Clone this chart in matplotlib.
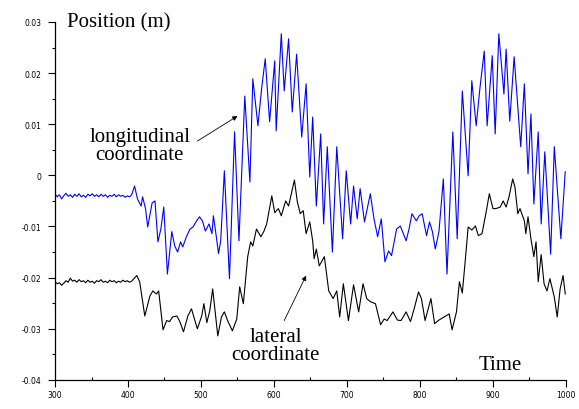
import matplotlib.pyplot as plt
from matplotlib.ticker import MultipleLocator


# Longitudinal coordinate (blue trace)
time_long = [
    300, 303, 306, 309, 312, 315, 318, 321, 324, 327, 330, 333, 336, 339,
    342, 345, 348, 351, 354, 357, 360, 363, 366, 369, 372, 375, 378, 381,
    384, 387, 390, 393, 396, 399, 402, 405,
    409, 413, 418, 420, 424, 427, 433, 437, 441, 445,
    449, 454, 460, 464, 468, 472, 475, 480, 485, 489, 494, 498, 502, 506,
    511, 515, 517, 521, 524, 527, 532, 539, 546, 552, 560, 567, 571, 578,
    583, 588, 594, 601, 603, 610, 614, 620, 625, 631, 638, 644, 649, 653,
    658, 664, 668, 673, 680, 686, 694, 699, 705, 709, 714, 718, 724, 732,
    737, 742, 747, 752, 757, 761, 768, 773, 781, 785, 789, 795, 799, 803,
    809, 813, 817, 821, 826, 832, 837, 845, 851, 858, 866, 871, 877, 882,
    888, 892, 899, 903, 908, 915, 918, 923, 929, 934, 938, 943, 948, 952,
    956, 962, 966, 971, 979, 984, 993, 999,
]
pos_long = [
    -0.0036, -0.0042, -0.0038, -0.0046, -0.0040, -0.0035, -0.0041, -0.0038,
    -0.0043, -0.0037, -0.0041, -0.0036, -0.0042, -0.0039, -0.0043, -0.0037,
    -0.0040, -0.0036, -0.0041, -0.0038, -0.0042, -0.0037, -0.0041, -0.0038,
    -0.0043, -0.0039, -0.0041, -0.0037, -0.0042, -0.0038, -0.0041, -0.0039,
    -0.0043, -0.0040, -0.0042, -0.0038,
    -0.0021, -0.0046, -0.0060, -0.0042, -0.0065, -0.0101,
    -0.0054, -0.0050, -0.0130, -0.0105, -0.0062, -0.0193, -0.0110, -0.0138,
    -0.0150, -0.0130, -0.0140, -0.0120, -0.0105, -0.0101, -0.0089, -0.0081,
    -0.0089, -0.0109, -0.0095, -0.0114, -0.0079, -0.0120, -0.0153, -0.0128,
    0.0009, -0.0202, 0.0085, -0.0128, 0.0155, -0.0013, 0.0189, 0.0097,
    0.0169, 0.0228, 0.0105, 0.0224, 0.0087, 0.0277, 0.0165, 0.0267,
    0.0124, 0.0237, 0.0075, 0.0179, -0.0003, 0.0114, -0.0060, 0.0081,
    -0.0095, 0.0056, -0.0150, 0.0056, -0.0124, 0.0009, -0.0095, -0.0021,
    -0.0085, -0.0026, -0.0091, -0.0036, -0.0085, -0.0120, -0.0085, -0.0169,
    -0.0148, -0.0157, -0.0105, -0.0099, -0.0128, -0.0105, -0.0075, -0.0089,
    -0.0079, -0.0075, -0.0118, -0.0091, -0.0110, -0.0144, -0.0110, -0.0007,
    -0.0193, 0.0085, -0.0124, 0.0165, -0.0001, 0.0185, 0.0097, 0.0169,
    0.0243, 0.0097, 0.0234, 0.0081, 0.0277, 0.0159, 0.0247, 0.0106,
    0.0232, 0.0134, 0.0056, 0.0179, 0.0003, 0.0120, -0.0056, 0.0085,
    -0.0095, 0.0046, -0.0154, 0.0056, -0.0124, 0.0007,
]

# Lateral coordinate (black trace)
time_lat = [
    300, 303, 306, 309, 312, 315, 318, 321, 324, 327, 330, 333, 336, 339,
    342, 345, 348, 351, 354, 357, 360, 363, 366, 369, 372, 375, 378, 381,
    384, 387, 390, 393, 396, 399, 402, 405,
    412, 416, 423, 430, 434, 439, 442, 448, 453, 457, 461, 467, 471,
    476, 482, 487, 491, 495, 501, 504, 508, 512, 516, 523, 528, 532, 537,
    543, 549, 553, 558, 564, 568, 571, 576, 582, 586, 590, 597, 601, 606,
    610, 616, 620, 628, 632, 636, 640, 644, 649, 653, 655, 658, 662, 669,
    675, 681, 686, 690, 695, 702, 709, 716, 722, 727, 732, 739, 746, 751,
    755, 763, 769, 774, 781, 787, 792, 798, 802, 807, 815, 820, 826, 833,
    840, 844, 850, 854, 858, 862, 866, 871, 876, 880, 885, 891, 895, 900,
    904, 910, 914, 918, 922, 927, 930, 934, 937, 943, 945, 948, 952, 956,
    959, 962, 966, 970, 974, 978, 984, 988, 992, 996, 999,
]
pos_lat = [
    -0.0208, -0.0212, -0.0210, -0.0215, -0.0211, -0.0206, -0.0209, -0.0201,
    -0.0207, -0.0205, -0.0209, -0.0204, -0.0208, -0.0206, -0.0210, -0.0205,
    -0.0209, -0.0207, -0.0211, -0.0206, -0.0208, -0.0204, -0.0209, -0.0207,
    -0.0210, -0.0205, -0.0208, -0.0206, -0.0210, -0.0207, -0.0209, -0.0205,
    -0.0208, -0.0206, -0.0209, -0.0207,
    -0.0196,
    -0.0208, -0.0275, -0.0236, -0.0226, -0.0232, -0.0226, -0.0302, -0.0284,
    -0.0286, -0.0277, -0.0275, -0.0286, -0.0306, -0.0275, -0.0261, -0.0281,
    -0.0300, -0.0275, -0.0251, -0.0288, -0.0265, -0.0222, -0.0314, -0.0277,
    -0.0267, -0.0286, -0.0304, -0.0281, -0.0218, -0.0251, -0.0159, -0.0130,
    -0.0138, -0.0105, -0.0120, -0.0110, -0.0095, -0.0040, -0.0073, -0.0065,
    -0.0079, -0.0050, -0.0060, -0.0009, -0.0052, -0.0075, -0.0069, -0.0114,
    -0.0091, -0.0128, -0.0163, -0.0144, -0.0177, -0.0159, -0.0226, -0.0241,
    -0.0226, -0.0277, -0.0212, -0.0284, -0.0214, -0.0267, -0.0212, -0.0241,
    -0.0247, -0.0251, -0.0292, -0.0281, -0.0284, -0.0267, -0.0283, -0.0284,
    -0.0267, -0.0286, -0.0261, -0.0228, -0.0241, -0.0284, -0.0241, -0.0290,
    -0.0283, -0.0277, -0.0271, -0.0302, -0.0267, -0.0208, -0.0230, -0.0167,
    -0.0101, -0.0107, -0.0099, -0.0118, -0.0114, -0.0069, -0.0036, -0.0065,
    -0.0065, -0.0062, -0.0050, -0.0062, -0.0042, -0.0007, -0.0022, -0.0075,
    -0.0065, -0.0089, -0.0114, -0.0081, -0.0124, -0.0159, -0.0130, -0.0208,
    -0.0155, -0.0212, -0.0226, -0.0202, -0.0238, -0.0277, -0.0222, -0.0196,
    -0.0232,
]

x_ticks = [300, 400, 500, 600, 700, 800, 900, 1000]
y_ticks = [0.03, 0.02, 0.01, 0, -0.01, -0.02, -0.03, -0.04]
y_tick_labels = ['0.03', '0.02', '0.01', '0', '-0.01', '-0.02', '-0.03', '-0.04']

serif = 'Liberation Serif'

fig = plt.figure(figsize=(5.79, 4.10), dpi=100)
ax = fig.add_axes([0.095, 0.071, 0.8825, 0.873])

ax.plot(time_long, pos_long, color='#0000ff', lw=0.8)
ax.plot(time_lat, pos_lat, color='black', lw=0.8)

ax.set_xlim(300, 1000)
ax.set_ylim(-0.04, 0.03)

# axes: only left and bottom lines
ax.spines['top'].set_visible(False)
ax.spines['right'].set_visible(False)
ax.spines['left'].set_linewidth(0.9)
ax.spines['bottom'].set_linewidth(0.9)

ax.set_xticks(x_ticks)
ax.set_xticklabels([str(t) for t in x_ticks])
ax.set_yticks(y_ticks)
ax.set_yticklabels(y_tick_labels)
ax.xaxis.set_minor_locator(MultipleLocator(50))
ax.yaxis.set_minor_locator(MultipleLocator(0.005))

ax.tick_params(axis='both', which='major', direction='out', length=5,
               width=0.8, labelsize=5.5)
ax.tick_params(axis='x', which='major', pad=2.5)
ax.tick_params(axis='y', which='major', pad=5)
ax.tick_params(axis='x', which='minor', direction='in', length=2.5, width=0.8)
ax.tick_params(axis='y', which='minor', direction='out', length=2.5, width=0.8)

# labels
fig.text(0.116, 0.934, 'Position (m)', family=serif, fontsize=15,
         ha='left', va='baseline')
ax.text(910, -0.0369, 'Time', family=serif, fontsize=15,
        ha='center', va='center')

ax.text(416, 0.0058, 'longitudinal\ncoordinate', family=serif, fontsize=15,
        ha='center', va='center', linespacing=0.95)
ax.text(602, -0.0333, 'lateral\ncoordinate', family=serif, fontsize=15,
        ha='center', va='center', linespacing=0.95)

arrow = dict(arrowstyle='-|>', color='black', lw=0.6,
             mutation_scale=7, shrinkA=0, shrinkB=0)
ax.annotate('', xy=(550, 0.0116), xytext=(495, 0.0067), arrowprops=arrow)
ax.annotate('', xy=(644, -0.0196), xytext=(614, -0.0284), arrowprops=arrow)

fig.savefig('out.png', dpi=100)
